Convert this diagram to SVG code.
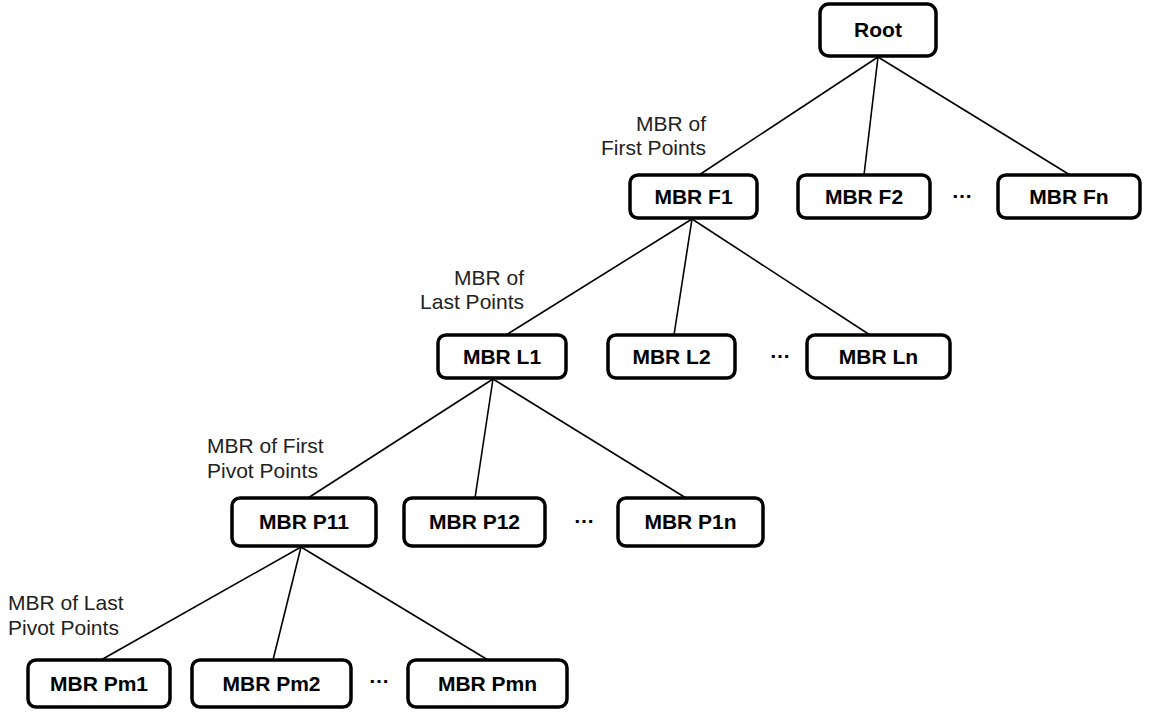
<svg xmlns="http://www.w3.org/2000/svg" width="1155" height="712" viewBox="0 0 1155 712">
  <style>
    .box { fill: #ffffff; stroke: #000000; stroke-width: 3.5; }
    .name { font-family: "Liberation Sans", Arial, sans-serif; font-size: 21px; font-weight: bold; fill: #000000; text-anchor: middle; }
    .note { font-family: "Liberation Sans", Arial, sans-serif; font-size: 21px; fill: #222222; }
    .dots { font-family: "Liberation Sans", Arial, sans-serif; font-size: 21px; font-weight: bold; fill: #000000; text-anchor: middle; }
    .edge { stroke: #000000; stroke-width: 1.6; fill: none; }
  </style>

  <!-- tree edges -->
  <g id="connectors">
    <line class="edge" x1="878" y1="57" x2="699" y2="175"/>
    <line class="edge" x1="878" y1="57" x2="864" y2="175"/>
    <line class="edge" x1="878" y1="57" x2="1070" y2="175"/>

    <line class="edge" x1="692" y1="219" x2="506" y2="335"/>
    <line class="edge" x1="692" y1="219" x2="674" y2="335"/>
    <line class="edge" x1="692" y1="219" x2="870" y2="335"/>

    <line class="edge" x1="493" y1="379" x2="308" y2="498"/>
    <line class="edge" x1="493" y1="379" x2="475" y2="498"/>
    <line class="edge" x1="493" y1="379" x2="686" y2="498"/>

    <line class="edge" x1="301" y1="547" x2="101" y2="660"/>
    <line class="edge" x1="301" y1="547" x2="273" y2="660"/>
    <line class="edge" x1="301" y1="547" x2="488" y2="660"/>
  </g>

  <!-- level 0 -->
  <g id="root">
    <rect class="box" x="820" y="4" width="116" height="52" rx="9"/>
    <text class="name" x="878" y="37">Root</text>
  </g>

  <!-- level 1: first points -->
  <g id="mbr-f1">
    <rect class="box" x="630" y="175" width="127" height="43" rx="8"/>
    <text class="name" x="693.5" y="204">MBR F1</text>
  </g>
  <g id="mbr-f2">
    <rect class="box" x="798" y="175" width="132" height="43" rx="8"/>
    <text class="name" x="864" y="204">MBR F2</text>
  </g>
  <text class="dots" x="962" y="198">…</text>
  <g id="mbr-fn">
    <rect class="box" x="998" y="175" width="142" height="43" rx="8"/>
    <text class="name" x="1069" y="204">MBR Fn</text>
  </g>

  <!-- level 2: last points -->
  <g id="mbr-l1">
    <rect class="box" x="438" y="335" width="128" height="43" rx="8"/>
    <text class="name" x="502" y="364">MBR L1</text>
  </g>
  <g id="mbr-l2">
    <rect class="box" x="608" y="335" width="127" height="43" rx="8"/>
    <text class="name" x="671.5" y="364">MBR L2</text>
  </g>
  <text class="dots" x="780" y="358">…</text>
  <g id="mbr-ln">
    <rect class="box" x="807" y="335" width="143" height="43" rx="8"/>
    <text class="name" x="878.5" y="364">MBR Ln</text>
  </g>

  <!-- level 3: first pivot points -->
  <g id="mbr-p11">
    <rect class="box" x="232" y="498" width="144" height="48" rx="8"/>
    <text class="name" x="304" y="529">MBR P11</text>
  </g>
  <g id="mbr-p12">
    <rect class="box" x="404" y="498" width="141" height="48" rx="8"/>
    <text class="name" x="474.5" y="529">MBR P12</text>
  </g>
  <text class="dots" x="584" y="523">…</text>
  <g id="mbr-p1n">
    <rect class="box" x="618" y="498" width="145" height="48" rx="8"/>
    <text class="name" x="690.5" y="529">MBR P1n</text>
  </g>

  <!-- level 4: last pivot points -->
  <g id="mbr-pm1">
    <rect class="box" x="28" y="660" width="142" height="47" rx="8"/>
    <text class="name" x="99" y="691">MBR Pm1</text>
  </g>
  <g id="mbr-pm2">
    <rect class="box" x="192" y="660" width="159" height="47" rx="8"/>
    <text class="name" x="271.5" y="691">MBR Pm2</text>
  </g>
  <text class="dots" x="379" y="683">…</text>
  <g id="mbr-pmn">
    <rect class="box" x="408" y="660" width="159" height="47" rx="8"/>
    <text class="name" x="487.5" y="691">MBR Pmn</text>
  </g>

  <!-- level annotations -->
  <g id="labels">
    <text class="note" text-anchor="end" x="706" y="131">MBR of</text>
    <text class="note" text-anchor="end" x="706" y="155">First Points</text>
    <text class="note" text-anchor="end" x="524" y="285">MBR of</text>
    <text class="note" text-anchor="end" x="524" y="309">Last Points</text>
    <text class="note" x="207" y="453">MBR of First</text>
    <text class="note" x="207" y="478">Pivot Points</text>
    <text class="note" x="8" y="610">MBR of Last</text>
    <text class="note" x="8" y="635">Pivot Points</text>
  </g>
</svg>
